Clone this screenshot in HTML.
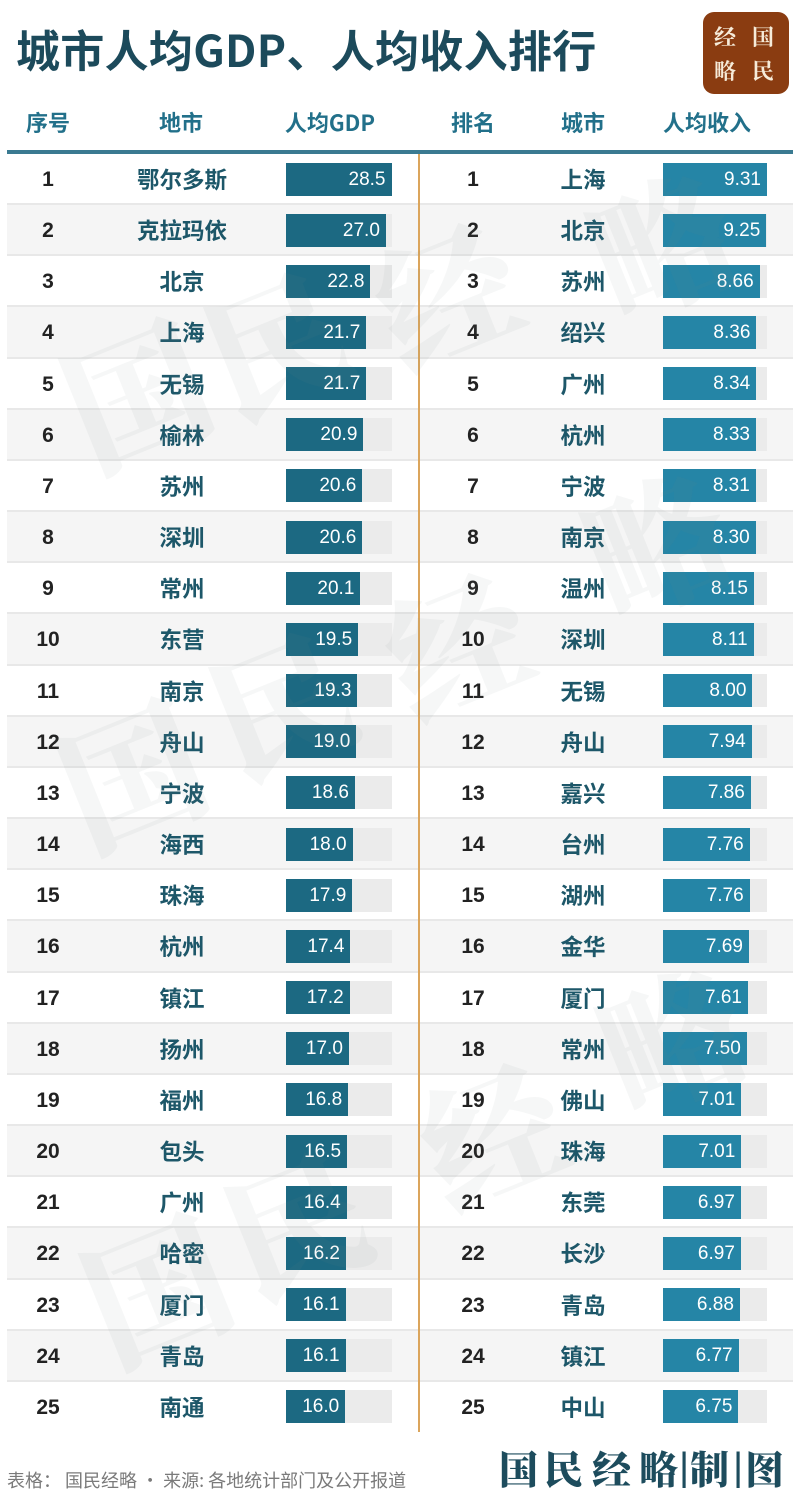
<!DOCTYPE html>
<html><head><meta charset="utf-8">
<style>
*{margin:0;padding:0;box-sizing:border-box}
body{width:800px;height:1499px;background:#fff;position:relative;overflow:hidden;font-family:"Liberation Sans","Noto Sans CJK SC",sans-serif}
.title{position:absolute;left:16px;top:18px;font-family:"Noto Sans CJK SC",sans-serif;font-weight:700;font-size:44px;line-height:60px;color:#1c4a5b;white-space:nowrap;letter-spacing:0.3px}
.logo{position:absolute;left:703px;top:12px;width:86px;height:82px;background:#8a3c11;border-radius:11px}
.logo span{position:absolute;font-family:"Noto Serif CJK SC",serif;font-weight:700;font-size:22px;line-height:22px;color:#f6ebd9;width:24px;text-align:center}
.hd{position:absolute;top:106px;font-family:"Noto Sans CJK SC",sans-serif;font-weight:700;font-size:22px;line-height:32px;color:#22708a;text-align:center;white-space:nowrap}
.hline{position:absolute;left:7px;top:150px;width:786px;height:3.5px;background:#3a7a91}
.row{position:absolute;left:7px;width:786px;height:51.16px;border-bottom:2px solid #e8e8e8}
.row.g{background:#f5f5f5}
.row.last{border-bottom:none}
.n{position:absolute;top:0;width:60px;text-align:center;font-family:"Liberation Sans",sans-serif;font-weight:700;font-size:21px;line-height:51px;color:#222}
.c{position:absolute;top:0;width:140px;text-align:center;font-family:"Noto Sans CJK SC",sans-serif;font-weight:700;font-size:22.5px;line-height:50px;color:#1d5769}
.t{position:absolute;top:8.5px;height:33px;background:#ebebeb}
.b{position:absolute;top:8.5px;height:33px;color:#fff;font-family:"Liberation Sans",sans-serif;font-size:19px;line-height:33px;text-align:right;padding-right:6px;white-space:nowrap}
.b1{background:#1c6982}
.b2{background:#2585a6}
.div{position:absolute;left:418px;top:154px;width:2px;height:1278px;background:#dba55c}
.wm{position:absolute;font-family:"Noto Serif CJK SC",serif;font-weight:900;font-size:140px;line-height:140px;color:rgba(120,135,140,0.065);transform:rotate(-22deg);pointer-events:none;z-index:5}
.foot{position:absolute;left:7px;top:1466px;font-family:"Noto Sans CJK SC",sans-serif;font-size:18px;line-height:28px;color:#7a7a7a;white-space:nowrap}
.sig span{position:absolute;top:1445px;font-family:"Noto Serif CJK SC",serif;font-weight:900;font-size:39px;line-height:46px;color:#1d4c5d}
</style></head><body>

<div class="title">城市人均GDP、人均收入排行</div>
<div class="logo">
<span style="left:10px;top:14px">经</span><span style="left:48px;top:14px">国</span>
<span style="left:10px;top:48px">略</span><span style="left:48px;top:48px">民</span>
</div>

<div class="hd" style="left:18px;width:60px">序号</div>
<div class="hd" style="left:141px;width:80px">地市</div>
<div class="hd" style="left:280px;width:100px">人均GDP</div>
<div class="hd" style="left:443px;width:60px">排名</div>
<div class="hd" style="left:543px;width:80px">城市</div>
<div class="hd" style="left:657px;width:100px">人均收入</div>
<div class="hline"></div>

<div class="row" style="top:154.00px"><div class="n" style="left:11px">1</div><div class="c" style="left:105px">鄂尔多斯</div><div class="t" style="left:279px;width:106px"></div><div class="b b1" style="left:279px;width:105.5px">28.5</div><div class="n" style="left:436px">1</div><div class="c" style="left:506px">上海</div><div class="t" style="left:656px;width:104px"></div><div class="b b2" style="left:656px;width:104.0px">9.31</div></div>
<div class="row g" style="top:205.16px"><div class="n" style="left:11px">2</div><div class="c" style="left:105px">克拉玛依</div><div class="t" style="left:279px;width:106px"></div><div class="b b1" style="left:279px;width:99.9px">27.0</div><div class="n" style="left:436px">2</div><div class="c" style="left:506px">北京</div><div class="t" style="left:656px;width:104px"></div><div class="b b2" style="left:656px;width:103.3px">9.25</div></div>
<div class="row" style="top:256.32px"><div class="n" style="left:11px">3</div><div class="c" style="left:105px">北京</div><div class="t" style="left:279px;width:106px"></div><div class="b b1" style="left:279px;width:84.4px">22.8</div><div class="n" style="left:436px">3</div><div class="c" style="left:506px">苏州</div><div class="t" style="left:656px;width:104px"></div><div class="b b2" style="left:656px;width:96.7px">8.66</div></div>
<div class="row g" style="top:307.48px"><div class="n" style="left:11px">4</div><div class="c" style="left:105px">上海</div><div class="t" style="left:279px;width:106px"></div><div class="b b1" style="left:279px;width:80.3px">21.7</div><div class="n" style="left:436px">4</div><div class="c" style="left:506px">绍兴</div><div class="t" style="left:656px;width:104px"></div><div class="b b2" style="left:656px;width:93.4px">8.36</div></div>
<div class="row" style="top:358.64px"><div class="n" style="left:11px">5</div><div class="c" style="left:105px">无锡</div><div class="t" style="left:279px;width:106px"></div><div class="b b1" style="left:279px;width:80.3px">21.7</div><div class="n" style="left:436px">5</div><div class="c" style="left:506px">广州</div><div class="t" style="left:656px;width:104px"></div><div class="b b2" style="left:656px;width:93.2px">8.34</div></div>
<div class="row g" style="top:409.80px"><div class="n" style="left:11px">6</div><div class="c" style="left:105px">榆林</div><div class="t" style="left:279px;width:106px"></div><div class="b b1" style="left:279px;width:77.4px">20.9</div><div class="n" style="left:436px">6</div><div class="c" style="left:506px">杭州</div><div class="t" style="left:656px;width:104px"></div><div class="b b2" style="left:656px;width:93.0px">8.33</div></div>
<div class="row" style="top:460.96px"><div class="n" style="left:11px">7</div><div class="c" style="left:105px">苏州</div><div class="t" style="left:279px;width:106px"></div><div class="b b1" style="left:279px;width:76.3px">20.6</div><div class="n" style="left:436px">7</div><div class="c" style="left:506px">宁波</div><div class="t" style="left:656px;width:104px"></div><div class="b b2" style="left:656px;width:92.8px">8.31</div></div>
<div class="row g" style="top:512.12px"><div class="n" style="left:11px">8</div><div class="c" style="left:105px">深圳</div><div class="t" style="left:279px;width:106px"></div><div class="b b1" style="left:279px;width:76.3px">20.6</div><div class="n" style="left:436px">8</div><div class="c" style="left:506px">南京</div><div class="t" style="left:656px;width:104px"></div><div class="b b2" style="left:656px;width:92.7px">8.30</div></div>
<div class="row" style="top:563.28px"><div class="n" style="left:11px">9</div><div class="c" style="left:105px">常州</div><div class="t" style="left:279px;width:106px"></div><div class="b b1" style="left:279px;width:74.4px">20.1</div><div class="n" style="left:436px">9</div><div class="c" style="left:506px">温州</div><div class="t" style="left:656px;width:104px"></div><div class="b b2" style="left:656px;width:91.0px">8.15</div></div>
<div class="row g" style="top:614.44px"><div class="n" style="left:11px">10</div><div class="c" style="left:105px">东营</div><div class="t" style="left:279px;width:106px"></div><div class="b b1" style="left:279px;width:72.2px">19.5</div><div class="n" style="left:436px">10</div><div class="c" style="left:506px">深圳</div><div class="t" style="left:656px;width:104px"></div><div class="b b2" style="left:656px;width:90.6px">8.11</div></div>
<div class="row" style="top:665.60px"><div class="n" style="left:11px">11</div><div class="c" style="left:105px">南京</div><div class="t" style="left:279px;width:106px"></div><div class="b b1" style="left:279px;width:71.4px">19.3</div><div class="n" style="left:436px">11</div><div class="c" style="left:506px">无锡</div><div class="t" style="left:656px;width:104px"></div><div class="b b2" style="left:656px;width:89.4px">8.00</div></div>
<div class="row g" style="top:716.76px"><div class="n" style="left:11px">12</div><div class="c" style="left:105px">舟山</div><div class="t" style="left:279px;width:106px"></div><div class="b b1" style="left:279px;width:70.3px">19.0</div><div class="n" style="left:436px">12</div><div class="c" style="left:506px">舟山</div><div class="t" style="left:656px;width:104px"></div><div class="b b2" style="left:656px;width:88.7px">7.94</div></div>
<div class="row" style="top:767.92px"><div class="n" style="left:11px">13</div><div class="c" style="left:105px">宁波</div><div class="t" style="left:279px;width:106px"></div><div class="b b1" style="left:279px;width:68.9px">18.6</div><div class="n" style="left:436px">13</div><div class="c" style="left:506px">嘉兴</div><div class="t" style="left:656px;width:104px"></div><div class="b b2" style="left:656px;width:87.8px">7.86</div></div>
<div class="row g" style="top:819.08px"><div class="n" style="left:11px">14</div><div class="c" style="left:105px">海西</div><div class="t" style="left:279px;width:106px"></div><div class="b b1" style="left:279px;width:66.6px">18.0</div><div class="n" style="left:436px">14</div><div class="c" style="left:506px">台州</div><div class="t" style="left:656px;width:104px"></div><div class="b b2" style="left:656px;width:86.7px">7.76</div></div>
<div class="row" style="top:870.24px"><div class="n" style="left:11px">15</div><div class="c" style="left:105px">珠海</div><div class="t" style="left:279px;width:106px"></div><div class="b b1" style="left:279px;width:66.3px">17.9</div><div class="n" style="left:436px">15</div><div class="c" style="left:506px">湖州</div><div class="t" style="left:656px;width:104px"></div><div class="b b2" style="left:656px;width:86.7px">7.76</div></div>
<div class="row g" style="top:921.40px"><div class="n" style="left:11px">16</div><div class="c" style="left:105px">杭州</div><div class="t" style="left:279px;width:106px"></div><div class="b b1" style="left:279px;width:64.4px">17.4</div><div class="n" style="left:436px">16</div><div class="c" style="left:506px">金华</div><div class="t" style="left:656px;width:104px"></div><div class="b b2" style="left:656px;width:85.9px">7.69</div></div>
<div class="row" style="top:972.56px"><div class="n" style="left:11px">17</div><div class="c" style="left:105px">镇江</div><div class="t" style="left:279px;width:106px"></div><div class="b b1" style="left:279px;width:63.7px">17.2</div><div class="n" style="left:436px">17</div><div class="c" style="left:506px">厦门</div><div class="t" style="left:656px;width:104px"></div><div class="b b2" style="left:656px;width:85.0px">7.61</div></div>
<div class="row g" style="top:1023.72px"><div class="n" style="left:11px">18</div><div class="c" style="left:105px">扬州</div><div class="t" style="left:279px;width:106px"></div><div class="b b1" style="left:279px;width:62.9px">17.0</div><div class="n" style="left:436px">18</div><div class="c" style="left:506px">常州</div><div class="t" style="left:656px;width:104px"></div><div class="b b2" style="left:656px;width:83.8px">7.50</div></div>
<div class="row" style="top:1074.88px"><div class="n" style="left:11px">19</div><div class="c" style="left:105px">福州</div><div class="t" style="left:279px;width:106px"></div><div class="b b1" style="left:279px;width:62.2px">16.8</div><div class="n" style="left:436px">19</div><div class="c" style="left:506px">佛山</div><div class="t" style="left:656px;width:104px"></div><div class="b b2" style="left:656px;width:78.3px">7.01</div></div>
<div class="row g" style="top:1126.04px"><div class="n" style="left:11px">20</div><div class="c" style="left:105px">包头</div><div class="t" style="left:279px;width:106px"></div><div class="b b1" style="left:279px;width:61.1px">16.5</div><div class="n" style="left:436px">20</div><div class="c" style="left:506px">珠海</div><div class="t" style="left:656px;width:104px"></div><div class="b b2" style="left:656px;width:78.3px">7.01</div></div>
<div class="row" style="top:1177.20px"><div class="n" style="left:11px">21</div><div class="c" style="left:105px">广州</div><div class="t" style="left:279px;width:106px"></div><div class="b b1" style="left:279px;width:60.7px">16.4</div><div class="n" style="left:436px">21</div><div class="c" style="left:506px">东莞</div><div class="t" style="left:656px;width:104px"></div><div class="b b2" style="left:656px;width:77.9px">6.97</div></div>
<div class="row g" style="top:1228.36px"><div class="n" style="left:11px">22</div><div class="c" style="left:105px">哈密</div><div class="t" style="left:279px;width:106px"></div><div class="b b1" style="left:279px;width:60.0px">16.2</div><div class="n" style="left:436px">22</div><div class="c" style="left:506px">长沙</div><div class="t" style="left:656px;width:104px"></div><div class="b b2" style="left:656px;width:77.9px">6.97</div></div>
<div class="row" style="top:1279.52px"><div class="n" style="left:11px">23</div><div class="c" style="left:105px">厦门</div><div class="t" style="left:279px;width:106px"></div><div class="b b1" style="left:279px;width:59.6px">16.1</div><div class="n" style="left:436px">23</div><div class="c" style="left:506px">青岛</div><div class="t" style="left:656px;width:104px"></div><div class="b b2" style="left:656px;width:76.9px">6.88</div></div>
<div class="row g" style="top:1330.68px"><div class="n" style="left:11px">24</div><div class="c" style="left:105px">青岛</div><div class="t" style="left:279px;width:106px"></div><div class="b b1" style="left:279px;width:59.6px">16.1</div><div class="n" style="left:436px">24</div><div class="c" style="left:506px">镇江</div><div class="t" style="left:656px;width:104px"></div><div class="b b2" style="left:656px;width:75.6px">6.77</div></div>
<div class="row last" style="top:1381.84px"><div class="n" style="left:11px">25</div><div class="c" style="left:105px">南通</div><div class="t" style="left:279px;width:106px"></div><div class="b b1" style="left:279px;width:59.2px">16.0</div><div class="n" style="left:436px">25</div><div class="c" style="left:506px">中山</div><div class="t" style="left:656px;width:104px"></div><div class="b b2" style="left:656px;width:75.4px">6.75</div></div>

<div class="div"></div>

<div class="wm" style="left:65px;top:320px">国</div>
<div class="wm" style="left:205px;top:270px">民</div>
<div class="wm" style="left:375px;top:220px">经</div>
<div class="wm" style="left:590px;top:170px">略</div>
<div class="wm" style="left:60px;top:700px">国</div>
<div class="wm" style="left:210px;top:630px">民</div>
<div class="wm" style="left:385px;top:570px">经</div>
<div class="wm" style="left:585px;top:470px">略</div>
<div class="wm" style="left:85px;top:1215px">国</div>
<div class="wm" style="left:225px;top:1150px">民</div>
<div class="wm" style="left:420px;top:1060px">经</div>
<div class="wm" style="left:600px;top:965px">略</div>

<div class="foot">表格： 国民经略 • 来源: 各地统计部门及公开报道</div>
<div class="sig">
<span style="left:499px">国</span>
<span style="left:544px">民</span>
<span style="left:592px">经</span>
<span style="left:639px">略</span>
<span style="left:679px;font-weight:400;font-family:'Liberation Sans',sans-serif">|</span>
<span style="left:690px">制</span>
<span style="left:733px;font-weight:400;font-family:'Liberation Sans',sans-serif">|</span>
<span style="left:745px">图</span>
</div>
</body></html>
